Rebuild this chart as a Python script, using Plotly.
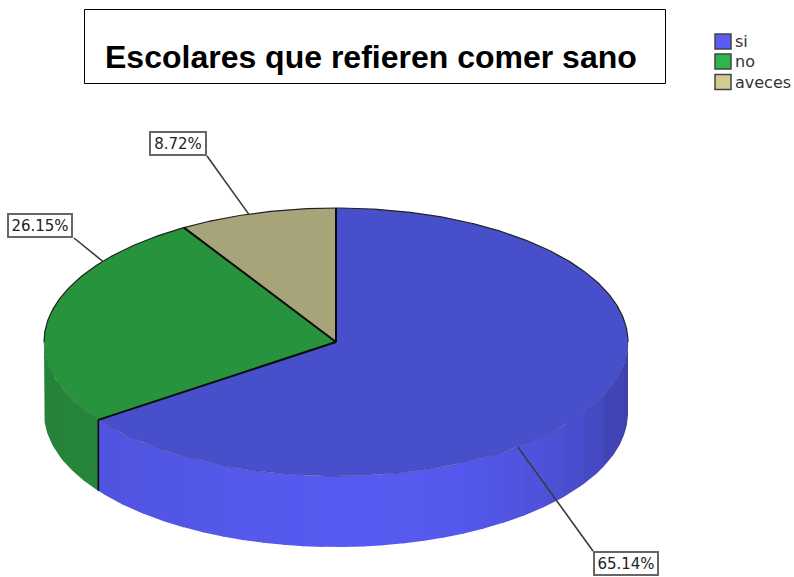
import numpy as np
import plotly.graph_objects as go

# --- data ---
categories = ["si", "no", "aveces"]
shares = [65.14, 26.15, 8.72]
title_text = "Escolares que refieren comer sano"

# --- styling / layout ---
top_colors = ["#484fca", "#27933d", "#a8a47a"]
wall_colors = [(86, 90, 240), (40, 145, 62), (168, 164, 122)]
legend_colors = ["#5a5cf2", "#2db64e", "#d2cc90"]
CX, CY, RX, RY, DEPTH = 336, 342, 292, 134, 71
label_boxes = [(626, 563.5, 66), (40, 225.5, 66), (178, 143.5, 58)]   # centre x, centre y, width
leader_angles = [141.5, 307.0, 342.6]                                  # where each leader meets the rim
leader_ends = [(593, 551), (74, 238), (207, 156)]
legend_rows = [41.5, 61.5, 82]
BAND_PX = 20


def rim(a, dy=0.0):
    r = np.radians(a)
    return CX + RX * np.sin(r), CY - RY * np.cos(r) + dy


def band_shade(x):
    """Lighting of the side wall across the pie's width."""
    u = (x - CX) / RX
    return float(np.clip(1.0 - 0.10 * max(-u, 0) ** 1.5 - 0.28 * max(u, 0) ** 3, 0, 1))


fracs = np.array(shares) / sum(shares)
edges = np.concatenate([[0], np.cumsum(fracs) * 360])

fig = go.Figure()

# side walls, drawn as lit strips of even on-screen width
grid = np.arange(CX - RX, CX + RX + BAND_PX, BAND_PX)
grid_angles = 180 - np.degrees(np.arcsin(np.clip((grid - CX) / RX, -1, 1)))   # front half angles
for i, name in enumerate(categories):
    a0, a1 = edges[i], edges[i + 1]
    lo, hi = max(a0, 90), min(a1, 270)
    if hi <= lo:
        continue
    inner = sorted(a for a in grid_angles if lo < a < hi)
    stops = [lo] + inner + [hi]
    for s0, s1 in zip(stops[:-1], stops[1:]):
        t = np.linspace(s0, s1 + (0.25 if s1 < hi else 0), 24)
        xs, ys = rim(t)
        xb, yb = rim(t[::-1], DEPTH)
        f = band_shade(float(xs.mean()))
        r, g, b = wall_colors[i]
        col = f"rgb({r * f:.0f},{g * f:.0f},{b * f:.0f})"
        fig.add_trace(go.Scatter(
            x=np.concatenate([xs, xb]), y=np.concatenate([ys, yb]),
            mode="lines", fill="toself", fillcolor=col,
            line=dict(width=0), hoverinfo="skip", showlegend=False))

# slice tops
for i, name in enumerate(categories):
    t = np.linspace(edges[i], edges[i + 1], 200)
    xs, ys = rim(t)
    fig.add_trace(go.Scatter(
        x=np.concatenate([[CX], xs, [CX]]), y=np.concatenate([[CY], ys, [CY]]),
        mode="lines", fill="toself", fillcolor=top_colors[i],
        line=dict(width=0), name=name, hoverinfo="name", showlegend=False))

# rim outlines: dark on the back half, faint on the front
t = np.linspace(-90, 90, 300)
xs, ys = rim(t)
fig.add_trace(go.Scatter(x=xs, y=ys, mode="lines", line=dict(color="#222", width=1.2),
                         hoverinfo="skip", showlegend=False))
t = np.linspace(90, 270, 300)
xs, ys = rim(t)
fig.add_trace(go.Scatter(x=xs, y=ys, mode="lines", line=dict(color="rgba(30,30,70,0.3)", width=1),
                         hoverinfo="skip", showlegend=False))

# slice separators and front wall seam
for a in edges[:-1]:
    x1, y1 = rim(a)
    fig.add_trace(go.Scatter(x=[CX, x1], y=[CY, y1], mode="lines", line=dict(color="#0a0a0a", width=2),
                             hoverinfo="skip", showlegend=False))
    if 90 < a < 270:
        fig.add_trace(go.Scatter(x=[x1, x1], y=[y1, y1 + DEPTH], mode="lines",
                                 line=dict(color="#0a0a0a", width=1.6),
                                 hoverinfo="skip", showlegend=False))

# leader lines
for a, (ex, ey) in zip(leader_angles, leader_ends):
    x1, y1 = rim(a)
    fig.add_trace(go.Scatter(x=[x1, ex], y=[y1, ey], mode="lines", line=dict(color="#3a3a3a", width=1.6),
                             hoverinfo="skip", showlegend=False))

annotations = []
# percentage labels
for v, (bx, by, bw) in zip(shares, label_boxes):
    annotations.append(dict(
        x=bx, y=by, xref="x", yref="y", text=f"{v:.2f}%", showarrow=False,
        font=dict(family="DejaVu Sans", size=15, color="#222"),
        width=bw - 6, height=19, align="center", bgcolor="white",
        bordercolor="#666", borderwidth=2, borderpad=1))

# title
annotations.append(dict(
    x=371, y=57, xref="x", yref="y", text=f"<b>{title_text}</b>", showarrow=False,
    font=dict(family="Liberation Sans", size=32, color="black")))

shapes = [dict(type="rect", x0=84.5, x1=665.5, y0=9.5, y1=83.5, line=dict(color="black", width=1),
               fillcolor="white", layer="below")]

# legend
for name, col, y in zip(categories, legend_colors, legend_rows):
    shapes.append(dict(type="rect", x0=715, x1=731, y0=y - 7.5, y1=y + 7.5,
                       line=dict(color="#444", width=1.5), fillcolor=col, layer="above"))
    annotations.append(dict(x=733, y=y, xref="x", yref="y", xanchor="left", text=name, showarrow=False,
                            font=dict(family="DejaVu Sans", size=16, color="#333")))

fig.update_layout(
    width=794, height=577, autosize=False,
    margin=dict(l=0, r=0, t=0, b=0),
    paper_bgcolor="white", plot_bgcolor="white", showlegend=False,
    xaxis=dict(range=[0, 794], visible=False, fixedrange=True),
    yaxis=dict(range=[577, 0], visible=False, fixedrange=True),
    annotations=annotations, shapes=shapes,
)
fig.write_html("out.html", config={"displayModeBar": False},
               post_script="document.body.style.margin='0';document.documentElement.style.overflow='hidden';")
